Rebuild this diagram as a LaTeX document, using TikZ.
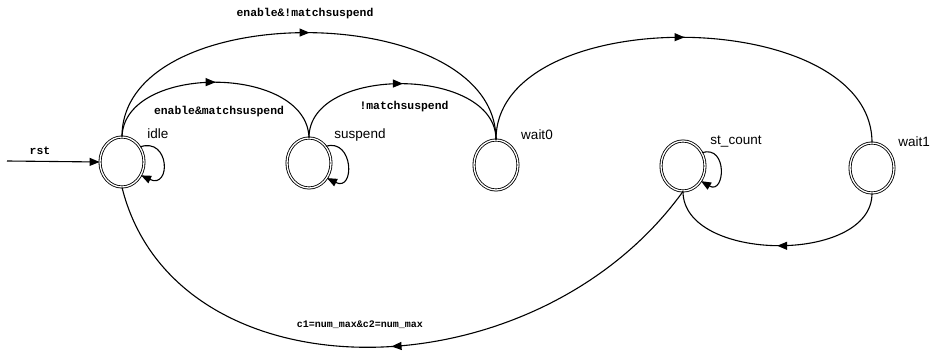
\documentclass[tikz,border=0pt]{standalone}
\usepackage{fontspec}
\setmainfont{Liberation Sans}
\newfontfamily\condfont{Liberation Mono}
\usetikzlibrary{arrows.meta,shapes.geometric,decorations.markings}

\begin{document}
\begin{tikzpicture}[x=1pt,y=1pt,
  fsmtip/.tip={Triangle[length=10pt,width=8pt]},
  fsm/.style={ellipse, draw, double, double distance=1.3pt, line width=0.85pt,
              minimum width=44pt, minimum height=50pt, inner sep=0pt},
  lbl/.style={font=\fontsize{13.5}{15}\selectfont, inner sep=0pt},
  cond/.style={font=\condfont\bfseries\fontsize{11.4}{13}\selectfont, inner sep=0pt},
  conn/.style={line width=1.1pt},
  midarrow/.style={postaction={decorate},
    decoration={markings, mark=at position #1 with {\arrow{fsmtip}}}},
  midarrow/.default=0.5,
  selfloop/.style={line width=1.1pt, -{fsmtip}}
]
\useasboundingbox (0,0) rectangle (934,358);
\fill[white] (0,0) rectangle (934,358);

% states
\node[fsm] (idle)    at (122,196) {};
\node[fsm] (suspend) at (309,195) {};
\node[fsm] (wait0)   at (496,193) {};
\node[fsm] (stcount) at (683,192) {};
\node[fsm] (wait1)   at (872,190) {};

% state names
\node[lbl] (idlename)    at (158,224) {idle};
\node[lbl] (suspendname) at (360,223) {suspend};
\node[lbl] (wait0name)   at (537,223) {wait0};
\node[lbl] (stcountname) at (736,217) {st\_count};
\node[lbl] (wait1name)   at (914,216) {wait1};

% reset entry
\coordinate (rstin) at (7,197);
\draw[conn,-{fsmtip}] (rstin) -- (idle.west);
\node[cond] (rstlbl) at (40,207) {rst};

% self loops
\draw[selfloop] (idle.40) .. controls +(30,10) and +(30,-14) .. (idle.-35);
\draw[selfloop] (suspend.45) .. controls +(28,8) and +(28,-14) .. (suspend.-40);
\draw[selfloop] (stcount.35) .. controls +(26,8) and +(24,-14) .. (stcount.-40);

% transitions
\draw[conn,midarrow] (idle.north) to[out=90,in=90,looseness=0.96] (wait0.north);
\node[cond] (t1) at (305,344) {enable\&!matchsuspend};

\draw[conn,midarrow] (idle.north) to[out=88,in=92,looseness=1] (suspend.north);
\node[cond] (t2) at (219,246) {enable\&matchsuspend};

\draw[conn,midarrow] (suspend.north) to[out=90,in=90,looseness=1] (wait0.north);
\node[cond] (t3) at (404,251) {!matchsuspend};

\draw[conn,midarrow] (wait0.north) to[out=90,in=90,looseness=0.94] (wait1.north);

\draw[conn,midarrow] (wait1.south) to[out=-90,in=-90,looseness=0.96] (stcount.south);

\draw[conn,midarrow] (stcount.south) .. controls +(-150,-208) and +(53,-213) .. (idle.south);
\node[cond,font=\condfont\bfseries\fontsize{10}{12}\selectfont] (t4) at (360,33) {c1=num\_max\&c2=num\_max};
\end{tikzpicture}
\end{document}
